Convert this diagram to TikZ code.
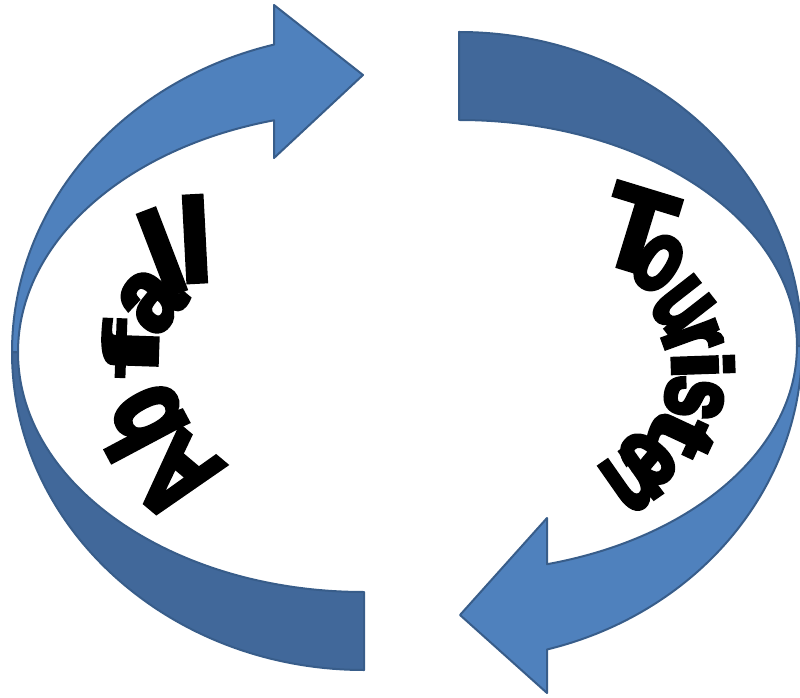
\documentclass[tikz,border=0pt]{standalone}
\usepackage{fontspec}
\newfontfamily\heavy{Liberation Sans}[BoldFeatures={FakeBold=5}]
\definecolor{lightblue}{HTML}{4F81BD}
\definecolor{darkblue}{HTML}{41689A}
\definecolor{edgeblue}{HTML}{385D8A}
\newcommand\glyphx[3]{\scalebox{#1}[#2]{#3}}
\begin{document}
\begin{tikzpicture}[x=1pt,y=1pt,
  lightband/.style={fill=lightblue,draw=edgeblue,line width=2pt,line join=round},
  darkband/.style={fill=darkblue,draw=edgeblue,line width=2pt,line join=round},
  glyph/.style={inner sep=0pt,font=\heavy\bfseries\fontsize{116}{116}\selectfont}]
\useasboundingbox (0,0) rectangle (800,697);
\clip (0,0) rectangle (800,697);
% left arrow
\draw[darkband] (364,27) arc[start angle=-90,end angle=-180,x radius=352,y radius=318]
  -- (18,345) arc[start angle=180,end angle=270,x radius=346,y radius=240] -- cycle;
\draw[lightband] (12,345) arc[start angle=180,end angle=104.8,x radius=352,y radius=318]
  -- (274,692) -- (363,622) -- (274,539) -- (274,576.7)
  arc[start angle=105.08,end angle=180,x radius=346,y radius=240] -- cycle;
% right arrow
\draw[darkband] (459,665) arc[start angle=90,end angle=0,x radius=343,y radius=314]
  -- (797,351) arc[start angle=0,end angle=90,x radius=338,y radius=226] -- cycle;
\draw[lightband] (802,351) arc[start angle=0,end angle=-75.13,x radius=343,y radius=314]
  -- (547,4) -- (460,82) -- (547,179) -- (547,132.8)
  arc[start angle=-74.9,end angle=0,x radius=338,y radius=226] -- cycle;
% Abfall
\node[glyph,rotate=140] (a1) at (177,220) {\glyphx{0.75}{1}{A}};
\node[glyph,rotate=118] (a2) at (140,275) {\glyphx{0.8}{1}{b}};
\node[glyph,rotate=88]  (a3) at (130,347) {\glyphx{1.4}{0.65}{f}};
\node[glyph,rotate=50]  (a4) at (151,396) {\glyphx{0.8}{0.9}{a}};
\node[glyph,rotate=21]  (a5) at (162,445) {\glyphx{1}{1}{l}};
\node[glyph,rotate=3]   (a6) at (195,458) {\glyphx{1}{1}{l}};
% Touristen
\node[glyph,rotate=-17]  (t1) at (638,467) {\glyphx{0.95}{1}{T}};
\node[glyph,rotate=-33]  (t2) at (658,434) {\glyphx{0.6}{0.88}{o}};
\node[glyph,rotate=-52]  (t3) at (682,391) {\glyphx{0.62}{0.88}{u}};
\node[glyph,rotate=-70]  (t4) at (692,359) {\glyphx{0.65}{0.88}{r}};
\node[glyph,rotate=-88]  (t5) at (703,332) {\glyphx{0.85}{0.72}{i}};
\node[glyph,rotate=-100] (t6) at (694,299) {\glyphx{0.64}{0.88}{s}};
\node[glyph,rotate=-115] (t7) at (682,263) {\glyphx{0.95}{0.78}{t}};
\node[glyph,rotate=-130] (t8) at (648,238) {\glyphx{0.64}{0.88}{e}};
\node[glyph,rotate=-145] (t9) at (631,217) {\glyphx{0.64}{0.92}{n}};
\end{tikzpicture}
\end{document}
